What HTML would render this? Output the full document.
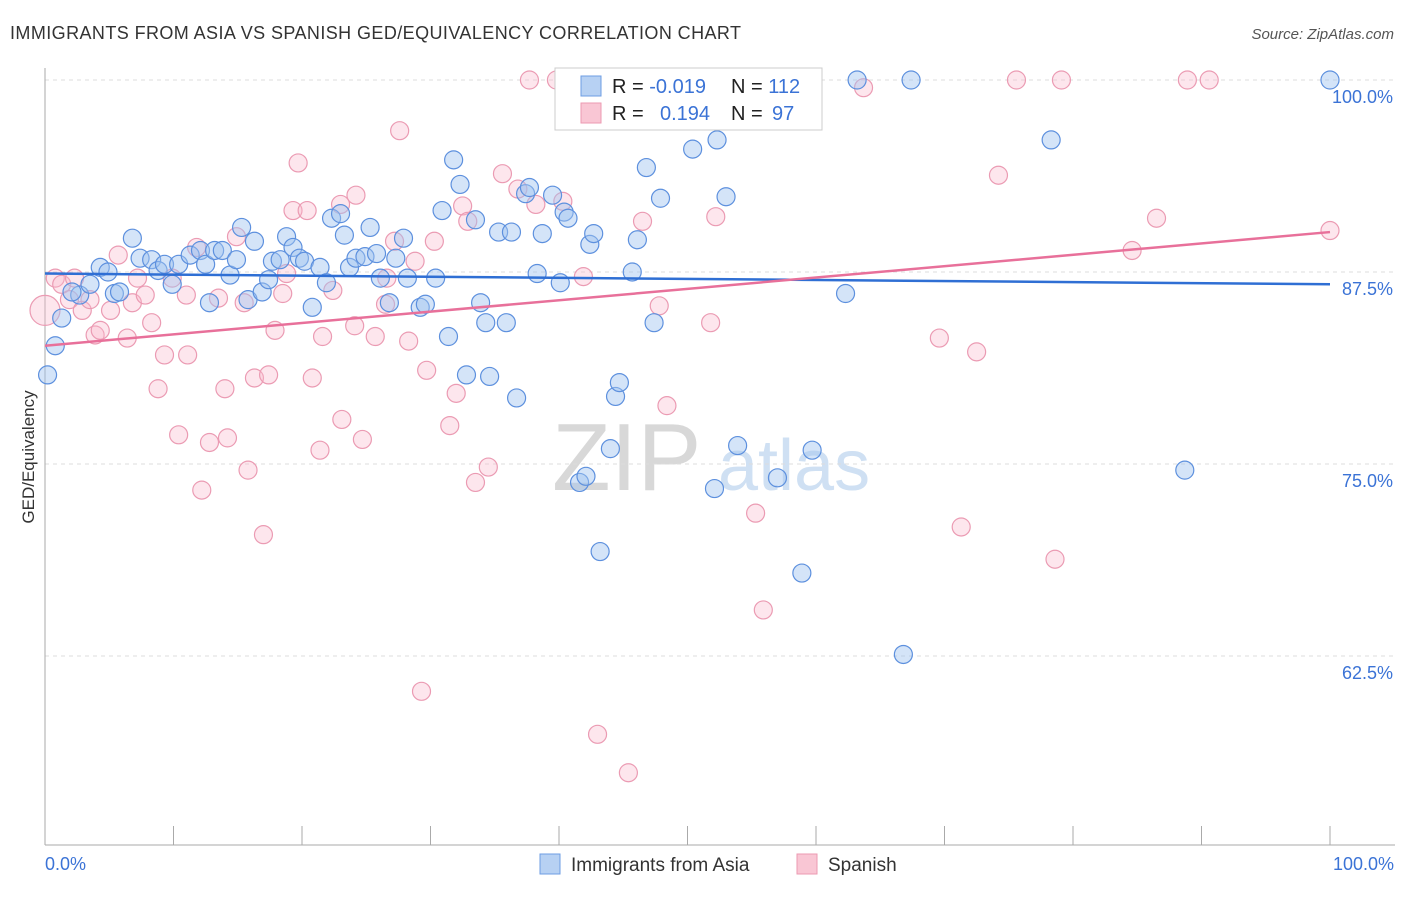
<!DOCTYPE html>
<html><head><meta charset="utf-8"><style>
body{margin:0;background:#fff;font-family:"Liberation Sans",sans-serif}
svg text{font-family:"Liberation Sans",sans-serif}
</style></head><body>
<svg id="chart" width="1406" height="892" xmlns="http://www.w3.org/2000/svg">
<text x="10" y="39" font-size="18" fill="#333" textLength="731">IMMIGRANTS FROM ASIA VS SPANISH GED/EQUIVALENCY CORRELATION CHART</text>
<text x="1394" y="39" font-size="15" fill="#555" font-style="italic" text-anchor="end">Source: ZipAtlas.com</text>
<g>
<text x="552" y="490" font-size="96" fill="#d8d8d8" font-family="Liberation Serif">ZIP</text>
<text x="718" y="490" font-size="72" fill="#cfe0f3">atlas</text>
</g>
<g id="grid"></g>
<g id="axes"></g>
<g id="points"></g>
<g id="trends"></g>
<text transform="translate(34,457) rotate(-90)" font-size="17" fill="#333" text-anchor="middle">GED/Equivalency</text>
<text x="45" y="870" font-size="18" fill="#3b73d6">0.0%</text>
<text x="1394" y="870" font-size="18" fill="#3b73d6" text-anchor="end">100.0%</text>
<g>
<rect x="555" y="68" width="267" height="62" fill="#fff" stroke="#ccc"/>
<rect x="581" y="76" width="20" height="20" fill="#b7d1f3" stroke="#6d9de3"/>
<rect x="581" y="103" width="20" height="20" fill="#f9c6d4" stroke="#ec9ab2"/>
<text x="612" y="93" font-size="20" fill="#222">R = <tspan fill="#3b73d6">-0.019</tspan></text>
<text x="731" y="93" font-size="20" fill="#222">N = <tspan fill="#3b73d6">112</tspan></text>
<text x="612" y="120" font-size="20" fill="#222">R = <tspan fill="#3b73d6" x="660">0.194</tspan></text>
<text x="731" y="120" font-size="20" fill="#222">N = <tspan fill="#3b73d6" x="772">97</tspan></text>
</g>
<g>
<rect x="540" y="854" width="20" height="20" fill="#b7d1f3" stroke="#6d9de3"/>
<text x="571" y="871" font-size="19" fill="#333">Immigrants from Asia</text>
<rect x="797" y="854" width="20" height="20" fill="#f9c6d4" stroke="#ec9ab2"/>
<text x="828" y="871" font-size="19" fill="#333">Spanish</text>
</g>
</svg>
<script>
const yTicks=[100,87.5,75,62.5];
const yTickLabels=["100.0%","87.5%","75.0%","62.5%"];
const xTicks=[10,20,30,40,50,60,70,80,90,100];
const asiaX=[0.2,1.3,0.8,2.7,2.1,3.5,4.3,4.9,5.4,5.8,6.8,7.4,8.3,8.8,9.3,9.9,10.4,11.3,12.1,12.5,12.8,13.2,13.8,14.4,14.9,15.3,15.8,16.3,16.9,17.4,17.7,18.3,18.8,19.3,19.8,20.2,20.8,21.4,21.9,22.3,23.0,23.3,23.7,24.2,24.9,25.3,25.8,26.1,26.8,27.3,27.9,28.2,29.2,29.6,30.4,31.4,31.8,32.3,32.8,30.9,33.5,33.9,34.3,34.6,35.3,35.9,36.3,36.7,37.4,37.7,38.3,38.7,39.5,40.1,40.4,40.7,41.6,42.4,42.7,43.2,44.0,44.4,44.7,45.3,45.7,46.1,46.8,47.4,47.9,50.4,52.1,52.3,53.0,53.3,53.9,57.0,58.9,59.7,62.3,63.2,66.8,67.4,78.3,88.7,100,42.1];
const asiaY=[80.8,84.5,82.7,86.0,86.2,86.7,87.8,87.5,86.1,86.2,89.7,88.4,88.3,87.6,88.0,86.7,88.0,88.6,88.9,88.0,85.5,88.9,88.9,87.3,88.3,90.4,85.7,89.5,86.2,87.0,88.2,88.3,89.8,89.1,88.4,88.2,85.2,87.8,86.8,91.0,91.3,89.9,87.8,88.4,88.5,90.4,88.7,87.1,85.5,88.4,89.7,87.1,85.2,85.4,87.1,83.3,94.8,93.2,80.8,91.5,90.9,85.5,84.2,80.7,90.1,84.2,90.1,79.3,92.6,93.0,87.4,90.0,92.5,86.8,91.4,91.0,73.8,89.3,90.0,69.3,76.0,79.4,80.3,97.7,87.5,89.6,94.3,84.2,92.3,95.5,73.4,96.1,92.4,98.7,76.2,74.1,67.9,75.9,86.1,100,62.6,100,96.1,74.6,100,74.2];
const spanX=[0,0.8,1.3,1.9,2.3,2.9,3.5,3.9,4.3,5.1,5.7,6.4,6.8,7.2,7.8,8.3,8.8,9.3,9.9,10.4,11.0,11.1,11.8,12.2,12.8,13.5,14.0,14.2,14.9,15.5,15.8,16.3,17.0,17.4,17.9,18.5,18.8,19.3,19.7,20.4,20.8,21.4,21.6,22.4,23.0,23.1,24.1,24.2,24.7,25.7,26.5,26.6,27.2,27.6,28.3,28.8,29.3,29.7,30.3,31.5,32.0,32.5,32.9,33.5,34.5,35.6,36.8,37.7,38.2,39.8,40.3,41.9,43.0,45.4,46.5,47.8,48.4,51.8,52.2,52.5,55.3,55.9,56.3,63.7,69.6,71.3,72.5,74.2,75.6,78.6,79.1,84.6,86.5,88.9,90.6,100];
const spanY=[85.0,87.1,86.7,85.7,87.1,85.0,85.7,83.4,83.7,85.0,88.6,83.2,85.5,87.1,86.0,84.2,79.9,82.1,87.1,76.9,86.0,82.1,89.1,73.3,76.4,85.8,79.9,76.7,89.8,85.5,74.6,80.6,70.4,80.8,83.7,86.1,87.4,91.5,94.6,91.5,80.6,75.9,83.3,86.3,91.9,77.9,84.0,92.5,76.6,83.3,85.4,87.1,89.5,96.7,83.0,88.2,60.2,81.1,89.5,77.5,79.6,91.8,90.8,73.8,74.8,93.9,92.9,100,91.9,100,92.1,87.2,57.4,54.9,90.8,85.3,78.8,84.2,91.1,100,71.8,65.5,100,99.5,83.2,70.9,82.3,93.8,100,68.8,100,88.9,91.0,100,100,90.2];
const trendStart=[87.4,82.7];
const trendEnd=[86.7,90.1];

const NS="http://www.w3.org/2000/svg";
const X=v=>45+v*12.85;
const Y=v=>80+(100-v)*15.36;
function mk(tag,attrs,parent){const e=document.createElementNS(NS,tag);for(const k in attrs)e.setAttribute(k,attrs[k]);document.getElementById(parent).appendChild(e);return e;}
yTicks.forEach((t,i)=>{
 const l=mk('line',{x1:45,x2:1395,y1:Y(t),y2:Y(t),stroke:'#ddd','stroke-dasharray':'4,4'},'grid');
 
 
 const tx=mk('text',{x:1393,y:Y(t)+23,'font-size':18,fill:'#3b73d6','text-anchor':'end'},'grid');
 tx.textContent=yTickLabels[i];
 
 
});
const ya=mk('line',{x1:45,x2:45,y1:68,y2:845,stroke:'#aaa'},'axes');


const xa=mk('line',{x1:45,x2:1395,y1:845,y2:845,stroke:'#aaa'},'axes');


xTicks.forEach(t=>{
 const l=mk('line',{x1:X(t),x2:X(t),y1:826,y2:845,stroke:'#aaa'},'axes');
 
 
});
spanX.forEach((v,i)=>{
 const c=mk('circle',{cx:X(v),cy:Y(spanY[i]),r:i===0?15:9,fill:'rgba(248,182,202,0.35)',stroke:'#eb9bb3','stroke-width':1.2},'points');
 
 
});
asiaX.forEach((v,i)=>{
 const c=mk('circle',{cx:X(v),cy:Y(asiaY[i]),r:9,fill:'rgba(160,196,240,0.45)',stroke:'#5d90de','stroke-width':1.2},'points');
 
 
});
const tb=mk('line',{x1:X(0),x2:X(100),y1:Y(trendStart[0]),y2:Y(trendEnd[0]),stroke:'#2f6fd4','stroke-width':2.5},'trends');


const tp=mk('line',{x1:X(0),x2:X(100),y1:Y(trendStart[1]),y2:Y(trendEnd[1]),stroke:'#e8709a','stroke-width':2.5},'trends');


</script>
</body></html>
